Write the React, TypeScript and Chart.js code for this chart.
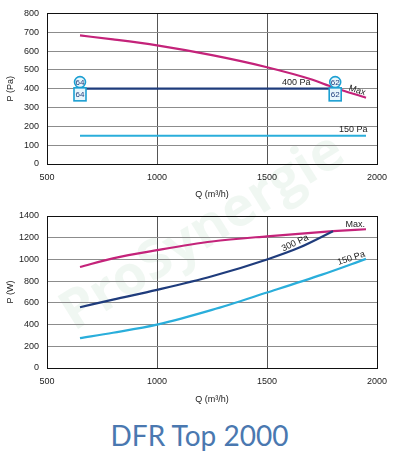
import React, { useEffect, useRef } from "react";
import { Chart, registerables } from "chart.js";

Chart.register(...registerables);

// ---------- Data ----------
// Top chart: pressure P (Pa) vs flow Q (m3/h)
const topMaxQ = [650, 800, 1000, 1250, 1500, 1700, 1800, 1950];
const topMaxP = [683, 662, 630, 578, 514, 450, 408, 352];
const top400Q = [650, 1800];
const top400P = [400, 400];
const top150Q = [650, 1950];
const top150P = [150, 150];

// Sound markers on top chart
const markerQ = [650, 650, 1810, 1810];
const markerP = [435, 370, 435, 370];
const markerLabels = ["64", "64", "62", "62"];
const markerShapes = ["circle", "square", "circle", "square"];

// Curve labels, top chart
const topLabelText = ["400 Pa", "Max", "150 Pa"];
const topLabelQ = [1633, 1910, 1892];
const topLabelP = [433, 391, 185];
const topLabelAngle = [0, 18, 0];

// Bottom chart: power P (W) vs flow Q (m3/h)
const botMaxQ = [650, 800, 1000, 1250, 1500, 1800, 1950];
const botMaxP = [930, 1010, 1085, 1165, 1213, 1260, 1278];
const bot300Q = [650, 800, 1000, 1250, 1500, 1650, 1800];
const bot300P = [560, 630, 720, 845, 1000, 1112, 1260];
const bot150Q = [650, 800, 1000, 1250, 1500, 1750, 1950];
const bot150P = [275, 325, 400, 535, 695, 860, 1005];

const botLabelText = ["Max.", "300 Pa", "150 Pa"];
const botLabelQ = [1901, 1628, 1883];
const botLabelP = [1323, 1150, 1010];
const botLabelAngle = [0, -25, -18];

const xTicks = [500, 1000, 1500, 2000];
const xTitle = "Q (m\u00B3/h)";
const topYTitle = "P (Pa)";
const botYTitle = "P (W)";
const titleText = "DFR Top 2000";
const watermarkText = "ProSynergie";

// ---------- Style ----------
const MAGENTA = "#c4237a";
const NAVY = "#1f3c7c";
const CYAN = "#2aaedb";
const FONT = "'Liberation Sans', Arial, sans-serif";

const zip = (xs: number[], ys: number[]) => xs.map((x, i) => ({ x, y: ys[i] }));

function makeLabelPlugin(texts: string[], qs: number[], ps: number[], angles: number[]) {
  return {
    id: "curveLabels",
    afterDatasetsDraw(chart: any) {
      const { ctx, scales } = chart;
      ctx.save();
      ctx.font = `9px ${FONT}`;
      ctx.fillStyle = "#222";
      ctx.textAlign = "center";
      ctx.textBaseline = "middle";
      texts.forEach((t, i) => {
        const px = scales.x.getPixelForValue(qs[i]);
        const py = scales.y.getPixelForValue(ps[i]);
        ctx.save();
        ctx.translate(px, py);
        ctx.rotate((angles[i] * Math.PI) / 180);
        ctx.fillText(t, 0, 0);
        ctx.restore();
      });
      ctx.restore();
    },
  };
}

const boxPlugin = {
  id: "box",
  beforeDatasetsDraw(chart: any) {
    const { ctx, chartArea } = chart;
    ctx.save();
    ctx.strokeStyle = "#111";
    ctx.lineWidth = 1;
    ctx.strokeRect(
      Math.round(chartArea.left) + 0.5,
      Math.round(chartArea.top) + 0.5,
      Math.round(chartArea.right - chartArea.left),
      Math.round(chartArea.bottom - chartArea.top)
    );
    ctx.restore();
  },
};

const markerPlugin = {
  id: "markers",
  afterDatasetsDraw(chart: any) {
    const { ctx, scales } = chart;
    ctx.save();
    markerQ.forEach((q, i) => {
      const px = scales.x.getPixelForValue(q);
      const py = scales.y.getPixelForValue(markerP[i]);
      ctx.lineWidth = 1.6;
      ctx.strokeStyle = "#1c9fd2";
      ctx.fillStyle = "#e8f6fc";
      if (markerShapes[i] === "circle") {
        ctx.beginPath();
        ctx.arc(px, py, 5.5, 0, Math.PI * 2);
        ctx.fill();
        ctx.stroke();
      } else {
        ctx.fillRect(px - 6, py - 6.5, 12, 13);
        ctx.strokeRect(px - 6, py - 6.5, 12, 13);
      }
      ctx.fillStyle = "#1f3c7c";
      ctx.font = `8px ${FONT}`;
      ctx.textAlign = "center";
      ctx.textBaseline = "middle";
      ctx.fillText(markerLabels[i], px, py + 0.5);
    });
    ctx.restore();
  },
};

function baseOptions(yMax: number, yStep: number, yTitle: string, xHeight: number, padTop: number): any {
  return {
    animation: false,
    responsive: false,
    maintainAspectRatio: false,
    layout: { padding: { top: padTop, right: 22, left: 0, bottom: 0 } },
    plugins: { legend: { display: false }, tooltip: { enabled: false } },
    elements: { point: { radius: 0 } },
    scales: {
      x: {
        type: "linear",
        min: 500,
        max: 2000,
        afterBuildTicks: (s: any) => {
          s.ticks = xTicks.map((v) => ({ value: v }));
        },
        afterFit: (s: any) => {
          s.height = xHeight;
        },
        grid: { color: "#555", lineWidth: 1, drawTicks: false },
        border: { color: "#111", width: 1 },
        ticks: {
          color: "#222",
          font: { family: FONT, size: 9 },
          padding: 8,
          callback: (v: any) => String(v),
        },
        title: {
          display: true,
          text: xTitle,
          color: "#222",
          font: { family: FONT, size: 9 },
          padding: { top: 5, bottom: 0 },
        },
      },
      y: {
        min: 0,
        max: yMax,
        afterFit: (s: any) => {
          s.width = 47;
        },
        grid: { color: "#8c8c8c", lineWidth: 1, drawTicks: false },
        border: { color: "#111", width: 1 },
        ticks: {
          stepSize: yStep,
          color: "#222",
          font: { family: FONT, size: 9 },
          padding: 8,
          callback: (v: any) => String(v),
        },
        title: {
          display: true,
          text: yTitle,
          color: "#222",
          font: { family: FONT, size: 9 },
          padding: { top: 5, bottom: 0 },
        },
      },
    },
  };
}

function lineDs(data: any[], color: string, width = 2) {
  return {
    data,
    borderColor: color,
    borderWidth: width,
    backgroundColor: color,
    fill: false,
    tension: 0.4,
    cubicInterpolationMode: "monotone",
    pointRadius: 0,
  };
}

export default function App() {
  const topRef = useRef<HTMLCanvasElement>(null);
  const botRef = useRef<HTMLCanvasElement>(null);

  useEffect(() => {
    const top = new Chart(topRef.current as HTMLCanvasElement, {
      type: "line",
      data: {
        datasets: [
          lineDs(zip(top150Q, top150P), CYAN, 2.2),
          lineDs(zip(top400Q, top400P), NAVY, 2.2),
          lineDs(zip(topMaxQ, topMaxP), MAGENTA, 2.2),
        ] as any,
      },
      options: baseOptions(800, 100, topYTitle, 36, 12),
      plugins: [boxPlugin, markerPlugin, makeLabelPlugin(topLabelText, topLabelQ, topLabelP, topLabelAngle)],
    });
    const bot = new Chart(botRef.current as HTMLCanvasElement, {
      type: "line",
      data: {
        datasets: [
          lineDs(zip(bot150Q, bot150P), CYAN, 2.2),
          lineDs(zip(bot300Q, bot300P), NAVY, 2.2),
          lineDs(zip(botMaxQ, botMaxP), MAGENTA, 2.2),
        ] as any,
      },
      options: baseOptions(1400, 200, botYTitle, 37, 16),
      plugins: [boxPlugin, makeLabelPlugin(botLabelText, botLabelQ, botLabelP, botLabelAngle)],
    });
    return () => {
      top.destroy();
      bot.destroy();
    };
  }, []);

  return (
    <div style={{ position: "absolute", left: 0, top: 0, width: 399, height: 460, background: "#fff", overflow: "hidden" }}>
      <div
        style={{
          position: "absolute",
          left: 200,
          top: 228,
          transform: "translate(-50%, -50%) rotate(-32deg)",
          fontFamily: "'Open Sans', sans-serif",
          fontWeight: 700,
          fontSize: 54,
          color: "rgba(170, 210, 185, 0.18)",
          whiteSpace: "nowrap",
          lineHeight: 1,
        }}
      >
        {watermarkText}
      </div>
      <canvas ref={topRef} width={399} height={200} style={{ position: "absolute", left: 0, top: 0, width: 399, height: 200 }} />
      <canvas ref={botRef} width={399} height={205} style={{ position: "absolute", left: 0, top: 200, width: 399, height: 205 }} />
      <div
        style={{
          position: "absolute",
          left: 0,
          top: 421,
          width: 399,
          textAlign: "center",
          fontFamily: "Lato, 'Open Sans', sans-serif",
          fontSize: 28,
          lineHeight: "28px",
          color: "#4a78b0",
        }}
      >
        {titleText}
      </div>
    </div>
  );
}
